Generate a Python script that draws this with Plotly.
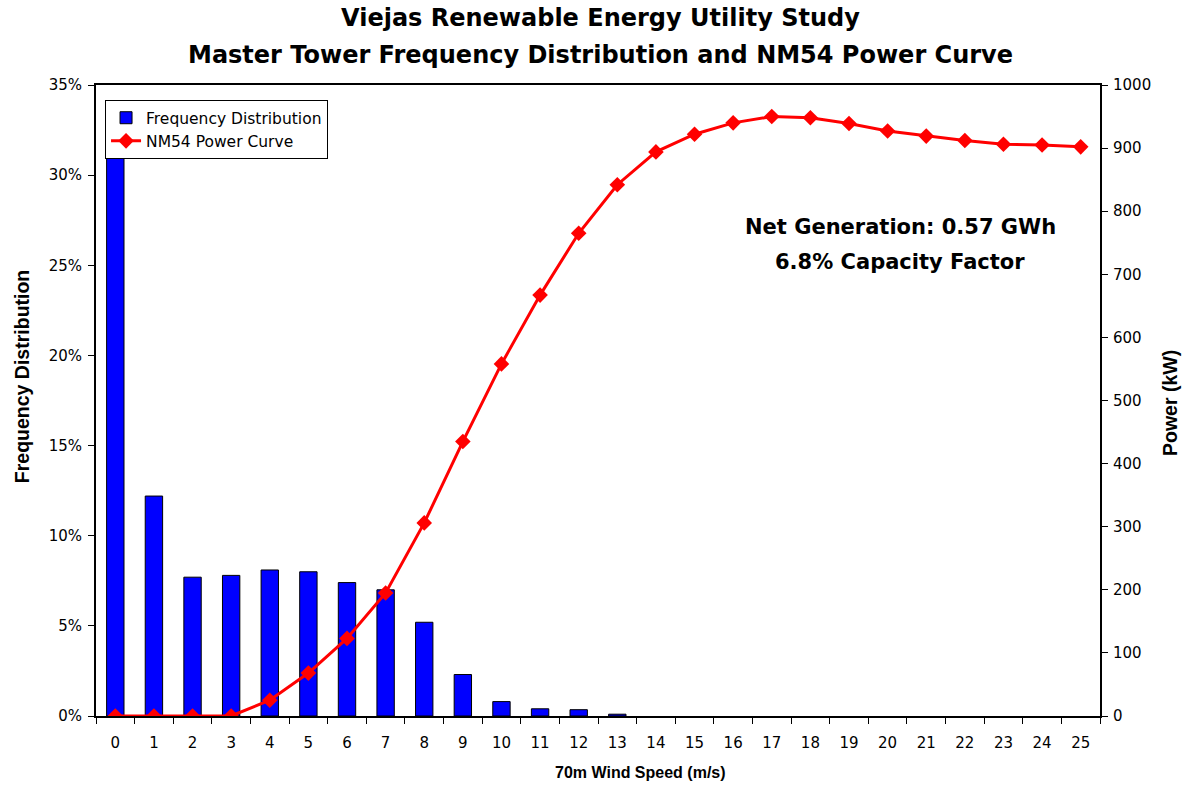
import plotly.graph_objects as go

wind_speed = [str(i) for i in range(26)]
freq_pct = [32.0, 12.2, 7.7, 7.8, 8.1, 8.0, 7.4, 7.0, 5.2, 2.3, 0.8, 0.4, 0.35, 0.1,
            0, 0, 0, 0, 0, 0, 0, 0, 0, 0, 0, 0]
power_kw = [0, 0, 0, 0, 25, 68, 123, 195, 306, 435, 558, 667, 765, 842,
            894, 922, 940, 950, 948, 939, 927, 919, 912, 906, 905, 902]

y_left_ticks = [0, 5, 10, 15, 20, 25, 30, 35]
y_left_labels = ["0%", "5%", "10%", "15%", "20%", "25%", "30%", "35%"]
y_right_ticks = list(range(0, 1001, 100))

ARIAL = "Arial, Liberation Sans, sans-serif"
WIDE = "DejaVu Sans, Verdana, sans-serif"

fig = go.Figure()
fig.add_trace(go.Bar(
    x=wind_speed, y=freq_pct, name="Frequency Distribution",
    marker=dict(color="#0000FF",
                line=dict(color="black", width=[1 if v > 0 else 0 for v in freq_pct])),
    width=0.45, yaxis="y",
))
fig.add_trace(go.Scatter(
    x=wind_speed, y=power_kw, name="NM54 Power Curve", mode="lines+markers",
    line=dict(color="#FF0000", width=3),
    marker=dict(symbol="diamond", size=12, color="#FF0000"),
    yaxis="y2",
))

annots = [
    dict(text="<b>Viejas Renewable Energy Utility Study</b>", x=0.502, y=1.106,
         font=dict(size=24, family=WIDE)),
    dict(text="<b>Master Tower Frequency Distribution and NM54 Power Curve</b>", x=0.502, y=1.0475,
         font=dict(size=24, family=WIDE)),
    dict(text="<b>Net Generation: 0.57 GWh</b>", x=0.801, y=0.775,
         font=dict(size=21, family=WIDE)),
    dict(text="<b>6.8% Capacity Factor</b>", x=0.801, y=0.7195,
         font=dict(size=21, family=WIDE)),
    dict(text="<b>70m Wind Speed (m/s)</b>", x=0.542, y=-0.0903,
         font=dict(size=16, family=ARIAL)),
    dict(text="<b>Frequency Distribution</b>", x=-0.0737, y=0.537, textangle=-90,
         font=dict(size=19.5, family=ARIAL)),
    dict(text="<b>Power (kW)</b>", x=1.0697, y=0.496, textangle=-90,
         font=dict(size=19.5, family=ARIAL)),
]
for a in annots:
    a.update(xref="paper", yref="paper", showarrow=False,
             xanchor="center", yanchor="middle", align="center")

fig.update_layout(
    width=1186, height=788,
    margin=dict(l=96, r=86, t=85, b=72),
    paper_bgcolor="white", plot_bgcolor="white",
    font=dict(family=WIDE, color="black", size=15),
    showlegend=True,
    legend=dict(
        x=0.009, y=0.976, xanchor="left", yanchor="top",
        bgcolor="white", bordercolor="black", borderwidth=1,
        font=dict(size=15.5, family=WIDE),
    ),
    xaxis=dict(
        type="category", range=[-0.5, 25.5],
        tickson="boundaries", ticks="outside", ticklen=6, tickcolor="black",
        showline=True, linecolor="black", linewidth=2, mirror=True,
        showgrid=False, tickfont=dict(size=15, family=WIDE),
        ticklabelstandoff=12,
    ),
    yaxis=dict(
        range=[0, 35], tickvals=y_left_ticks, ticktext=y_left_labels,
        ticks="outside", ticklen=6, tickcolor="black",
        showline=True, linecolor="black", linewidth=2,
        showgrid=False, zeroline=False, tickfont=dict(size=15, family=WIDE),
        ticklabelstandoff=3,
    ),
    yaxis2=dict(
        range=[0, 1000], tickvals=y_right_ticks, overlaying="y", side="right",
        ticks="outside", ticklen=6, tickcolor="black",
        showline=True, linecolor="black", linewidth=2,
        showgrid=False, zeroline=False, tickfont=dict(size=15, family=WIDE),
        ticklabelstandoff=2,
    ),
    annotations=annots,
)

fig.write_html("out.html", config={"displayModeBar": False},
               post_script="document.body.style.margin='0px';")
